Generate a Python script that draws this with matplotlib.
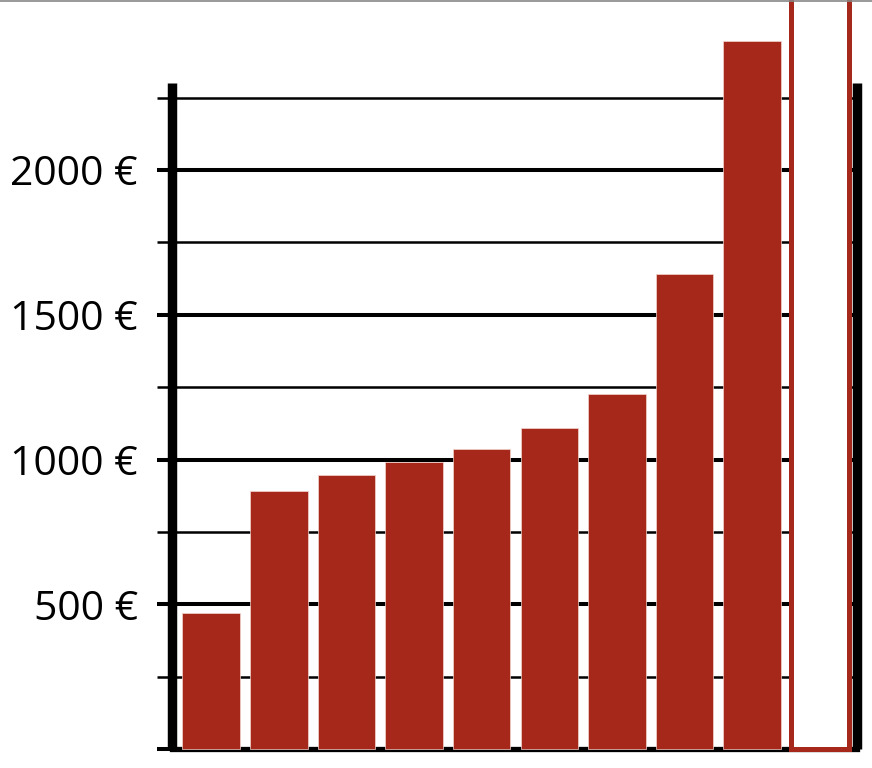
import matplotlib
matplotlib.use("Agg")
import matplotlib.pyplot as plt
from matplotlib.lines import Line2D

# Data
categories = ["1", "2", "3", "4", "5", "6", "7", "8", "9", "10"]
values = [470, 890, 945, 990, 1035, 1110, 1225, 1640, 2445, 2800]
outlined = [False] * 9 + [True]
major_ticks = [0, 500, 1000, 1500, 2000]
major_labels = ["", "500 €", "1000 €", "1500 €", "2000 €"]
minor_ticks = [250, 750, 1250, 1750, 2250]

RED = "#A5281A"

plt.rcParams["font.family"] = ["Open Sans", "DejaVu Sans"]

fig = plt.figure(figsize=(8.72, 7.68), dpi=100)
W, H = 872, 768
ax = fig.add_axes([172 / W, (H - 749) / H, (856.7 - 172) / W, (749 - 83.3) / H])

x = list(range(len(categories)))
for xi, v, o in zip(x, values, outlined):
    if o:
        ax.bar(xi, v, width=0.852, facecolor="white", edgecolor=RED,
               linewidth=3.6, zorder=5, clip_on=False)
    else:
        ax.bar(xi, v, width=0.852, color=RED, edgecolor="#F3D6D0",
               linewidth=0.5, zorder=5, clip_on=False)

ax.set_xlim(-0.58, 9.546)
ax.set_ylim(0, 2300)

# grid lines
for t in major_ticks[1:]:
    ax.axhline(t, color="black", lw=2.9, zorder=1)
for t in minor_ticks:
    ax.axhline(t, color="black", lw=1.8, zorder=1)

ax.set_yticks(major_ticks)
ax.set_yticklabels(major_labels)
ax.set_yticks(minor_ticks, minor=True)
ax.tick_params(axis="y", which="major", length=10.5, width=2.9, direction="out",
               labelsize=29.5, pad=14, color="black")
ax.tick_params(axis="y", which="minor", length=10.5, width=1.8, direction="out")
ax.set_xticks([])

for side in ["left", "right"]:
    ax.spines[side].set_linewidth(6.8)
    ax.spines[side].set_zorder(4)
    ax.spines[side].set_capstyle("butt")
ax.spines["bottom"].set_linewidth(3.8)
ax.spines["bottom"].set_zorder(4)
ax.spines["top"].set_visible(False)

# top border line of the image
fig.add_artist(Line2D([0, 1], [1 - 1 / H, 1 - 1 / H], transform=fig.transFigure,
                      color="#888888", lw=1.2))

fig.savefig("out.png", dpi=100)
